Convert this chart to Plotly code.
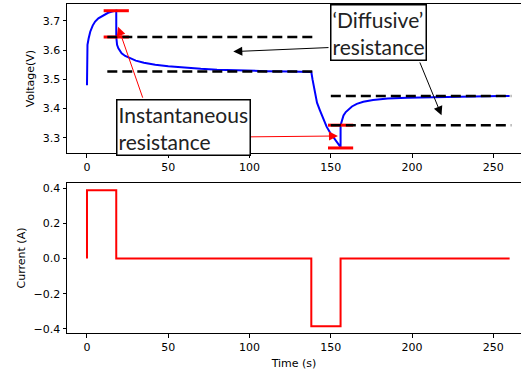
import plotly.graph_objects as go

# ---- data ----
time_v = [0, 0.05, 0.3, 1, 2, 3.5, 5, 7, 10, 13, 16, 18, 18.01, 18.5, 19.3, 21.3, 23.5, 26.4, 30, 35, 42, 50, 60, 70, 80, 95, 110, 125, 138,
          138.8, 140.2, 141.5, 143.3, 145.3, 147.4, 149.5, 151.5, 153.5, 155.6, 156, 156.01, 156.8, 157.8, 159.2, 161, 163, 166, 170, 176,
          185, 197, 217, 235, 254, 260]
voltage = [3.48, 3.56, 3.618, 3.64, 3.663, 3.684, 3.698, 3.709, 3.72, 3.728, 3.733, 3.735, 3.645, 3.618, 3.606, 3.589, 3.58, 3.572, 3.564,
           3.557, 3.55, 3.545, 3.54, 3.536, 3.533, 3.53, 3.528, 3.527, 3.525,
           3.498, 3.452, 3.42, 3.394, 3.365, 3.338, 3.318, 3.303, 3.287, 3.271, 3.268, 3.343, 3.362, 3.376, 3.388, 3.398, 3.407, 3.416,
           3.423, 3.429, 3.434, 3.437, 3.44, 3.442, 3.443, 3.443]

time_i = [0, 0, 18, 18, 138, 138, 156, 156, 260]
current = [0, 0.389, 0.389, 0, 0, -0.385, -0.385, 0, 0]

# instantaneous drops (time, upper, lower voltage)
inst_t = [18, 156]
inst_hi = [3.735, 3.343]
inst_lo = [3.645, 3.265]

# diffusive reference levels
diff_left_levels = [3.645, 3.527]
diff_left_span = [12.5, 140]
diff_right_levels = [3.443, 3.343]
diff_right_span = [150, 261]

x_ticks = [0, 50, 100, 150, 200, 250]
v_ticks = [3.3, 3.4, 3.5, 3.6, 3.7]
i_ticks = [-0.4, -0.2, 0.0, 0.2, 0.4]
i_ticklabels = ["−0.4", "−0.2", "0.0", "0.2", "0.4"]

fig = go.Figure()

fig.add_trace(go.Scatter(x=time_v, y=voltage, mode="lines", line=dict(color="#0000ff", width=2),
                         xaxis="x", yaxis="y", showlegend=False))

cap_x = inst_t + inst_t
cap_y = inst_hi + inst_lo
fig.add_trace(go.Scatter(x=cap_x, y=cap_y, mode="markers",
                         marker=dict(symbol="line-ew", size=18, line=dict(color="#ff0000", width=3)),
                         xaxis="x", yaxis="y", showlegend=False))

for lev in diff_left_levels:
    fig.add_trace(go.Scatter(x=diff_left_span, y=[lev, lev], mode="lines",
                             line=dict(color="black", width=2.5, dash="10px,5px"),
                             xaxis="x", yaxis="y", showlegend=False))
for lev in diff_right_levels:
    fig.add_trace(go.Scatter(x=diff_right_span, y=[lev, lev], mode="lines",
                             line=dict(color="black", width=2.5, dash="10px,5px"),
                             xaxis="x", yaxis="y", showlegend=False))

fig.add_trace(go.Scatter(x=time_i, y=current, mode="lines", line=dict(color="#ff0000", width=2),
                         xaxis="x2", yaxis="y2", showlegend=False))

tickfont = dict(family="DejaVu Sans", size=11, color="black")
titlefont = dict(family="DejaVu Sans", size=11, color="black")
axis_common = dict(showline=True, linecolor="black", linewidth=1, ticks="outside", ticklen=3.5,
                   tickcolor="black", showgrid=False, zeroline=False, tickfont=tickfont)

fig.update_layout(
    width=521, height=376,
    margin=dict(l=67, r=0, t=4, b=43),
    paper_bgcolor="white", plot_bgcolor="white",
    xaxis=dict(domain=[0, 1], anchor="y", range=[-12.3, 267], tickvals=x_ticks, mirror=True, **axis_common),
    yaxis=dict(domain=[0.547, 1], anchor="x", range=[3.2476, 3.758], tickvals=v_ticks, tickformat=".1f",
               title=dict(text="Voltage(V)", font=titlefont, standoff=5), **axis_common),
    xaxis2=dict(domain=[0, 1], anchor="y2", range=[-12.3, 267], tickvals=x_ticks, mirror=True,
                title=dict(text="Time (s)", font=titlefont, standoff=6), **axis_common),
    yaxis2=dict(domain=[0, 0.456], anchor="x2", range=[-0.423, 0.43], tickvals=i_ticks, ticktext=i_ticklabels,
                title=dict(text="Current (A)", font=titlefont, standoff=5), **axis_common),
)

box_font = dict(family="Lato", size=21, color="#222222")
annotations = [
    dict(text="Instantaneous<br>resistance", x=17.8, y=3.433, xref="x", yref="y", xanchor="left", yanchor="top",
         showarrow=False, align="left", font=box_font, bgcolor="white", bordercolor="black", borderwidth=1.5, borderpad=1),
    dict(text="‘Diffusive’<br>resistance", x=149.4, y=3.563, xref="x", yref="y", xanchor="left", yanchor="bottom",
         showarrow=False, align="left", font=box_font, bgcolor="white", bordercolor="black", borderwidth=1.5, borderpad=1),
]
arrows = [
    (19.1, 3.68, 34.6, 3.432, "#ff0000"),
    (154.4, 3.306, 99.6, 3.303, "#ff0000"),
    (90.0, 3.595, 149.5, 3.609, "black"),
    (218.1, 3.377, 204.4, 3.563, "black"),
]
arrow_anns = []
for tx, ty, sx, sy, col in arrows:
    arrow_anns.append(dict(text="", x=tx, y=ty, ax=sx, ay=sy, xref="x", yref="y", axref="x", ayref="y",
                           showarrow=True, arrowhead=2, arrowsize=1.8, arrowwidth=1, arrowcolor=col))
fig.update_layout(annotations=arrow_anns + annotations)

fig.write_html("out.html")
